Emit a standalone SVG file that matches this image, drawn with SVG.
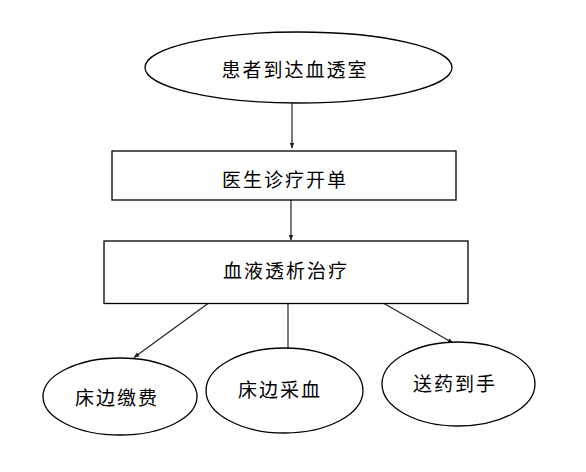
<svg xmlns="http://www.w3.org/2000/svg" width="586" height="472" viewBox="0 0 586 472">
<style>
.n{fill:#fff;stroke:#000;stroke-width:1.3}
.t{font-family:"Noto Sans CJK SC","Noto Sans CJK JP",sans-serif;font-size:19px;fill:#000;text-anchor:middle;letter-spacing:2px}
.c{stroke:#222;stroke-width:1.2;fill:none;marker-end:url(#a)}
</style>
<defs>
<marker id="a" viewBox="0 0 6 6" refX="5.5" refY="3" markerWidth="6" markerHeight="6" markerUnits="userSpaceOnUse" orient="auto">
<path d="M0,0.6 L6,3 L0,5.4 Z" fill="#222"/>
</marker>
</defs>
<rect width="586" height="472" fill="#fff"/>
<g id="connectors">
<line class="c" x1="292" y1="103" x2="292" y2="148"/>
<line class="c" x1="291" y1="200" x2="291" y2="240"/>
<line class="c" x1="208" y1="303.5" x2="134" y2="357.5"/>
<line class="c" x1="288" y1="303.5" x2="288" y2="367"/>
<line class="c" x1="384" y1="303.5" x2="453" y2="343"/>
</g>
<g id="n1"><ellipse class="n" cx="298.5" cy="67.5" rx="153.5" ry="35.5"/><text class="t" x="295" y="77">患者到达血透室</text></g>
<g id="n2"><rect class="n" x="112" y="151" width="344" height="49"/><text class="t" x="285" y="187">医生诊疗开单</text></g>
<g id="n3"><rect class="n" x="104" y="241" width="364" height="62.5"/><text class="t" x="286" y="278">血液透析治疗</text></g>
<g id="n4"><ellipse class="n" cx="120" cy="396.5" rx="77" ry="38.5"/><text class="t" x="117" y="405">床边缴费</text></g>
<g id="n5"><ellipse class="n" cx="284.5" cy="390.5" rx="78.5" ry="42.5"/><text class="t" x="280" y="397">床边采血</text></g>
<g id="n6"><ellipse class="n" cx="458.5" cy="384" rx="76.5" ry="42"/><text class="t" x="455" y="391">送药到手</text></g>
</svg>
